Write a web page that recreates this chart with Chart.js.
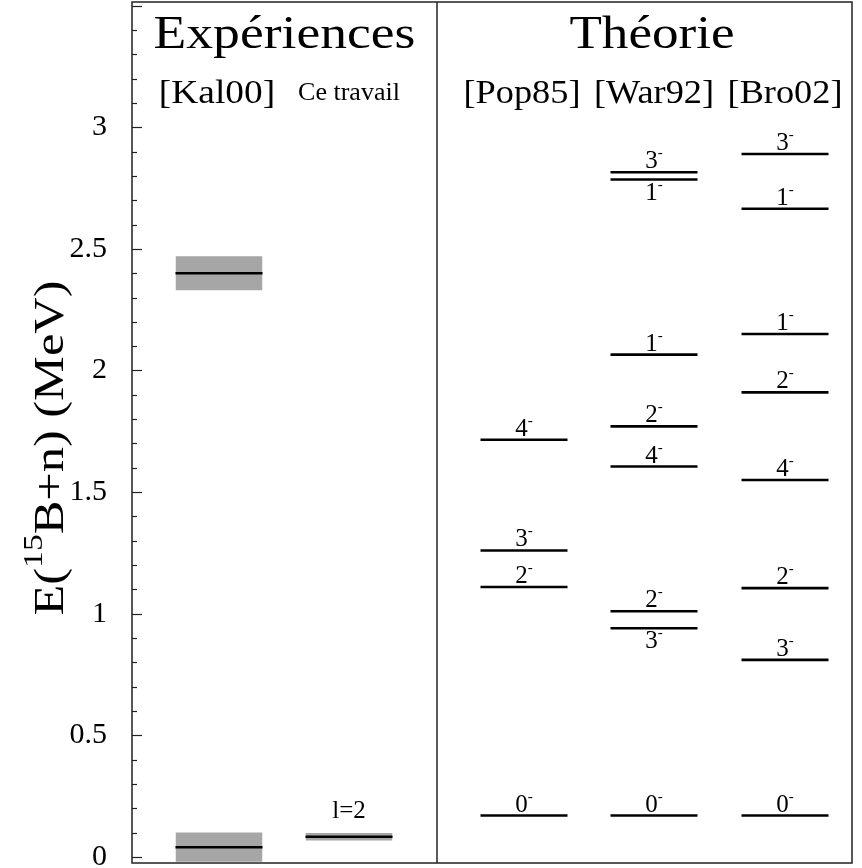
<!DOCTYPE html>
<html>
<head>
<meta charset="utf-8">
<script src="https://cdn.jsdelivr.net/npm/chart.js@4.4.1/dist/chart.umd.min.js"></script>
<style>
  html, body { margin: 0; padding: 0; background: #fff; }
  #levels { display: block; }
</style>
</head>
<body>
<canvas id="levels" width="862" height="868"></canvas>
<script>
// column headers
const groups = ['Expériences', 'Théorie'];
const columns = ['[Kal00]', 'Ce travail', '[Pop85]', '[War92]', '[Bro02]'];

// experimental levels (MeV) and their uncertainty bands
const kal00Energy = [0.04, 2.40];
const kal00Error = [0.06, 0.07];
const ceTravailEnergy = [0.083];
const ceTravailError = [0.015];
const ceTravailLabel = ['l=2'];

// theoretical levels (MeV) and J (all negative parity)
const pop85Energy = [0.17, 1.11, 1.26, 1.715];
const pop85Spin = ['0', '2', '3', '4'];
const war92Energy = [0.17, 0.94, 1.01, 1.605, 1.77, 2.065, 2.785, 2.815];
const war92Spin = ['0', '3', '2', '4', '2', '1', '1', '3'];
const bro02Energy = [0.17, 0.81, 1.105, 1.55, 1.91, 2.15, 2.665, 2.89];
const bro02Spin = ['0', '3', '2', '4', '2', '1', '1', '3'];

const yTicks = [0, 0.5, 1, 1.5, 2, 2.5, 3];

// layout on the x axis (0..7.2)
const colX = [0.87, 2.17, 3.92, 5.22, 6.53];
const halfW = 0.435;
const dividerX = 3.05;
const FONT = '"Liberation Serif", "Times New Roman", serif';

const datasets = [];
function addLevel(col, e) {
  datasets.push({
    data: [{ x: colX[col] - halfW, y: e }, { x: colX[col] + halfW, y: e }],
    borderColor: '#000', borderWidth: 2.6, pointRadius: 0, fill: false, order: 0
  });
}
function addBand(col, e, err) {
  datasets.push({
    data: [{ x: colX[col] - halfW, y: e + err }, { x: colX[col] + halfW, y: e + err }],
    borderWidth: 0, borderColor: 'rgba(0,0,0,0)', pointRadius: 0, fill: false, order: 1
  });
  datasets.push({
    data: [{ x: colX[col] - halfW, y: e - err }, { x: colX[col] + halfW, y: e - err }],
    borderWidth: 0, borderColor: 'rgba(0,0,0,0)', pointRadius: 0,
    fill: '-1', backgroundColor: '#a6a6a6', order: 1
  });
}
kal00Energy.forEach((e, i) => addBand(0, e, kal00Error[i]));
ceTravailEnergy.forEach((e, i) => addBand(1, e, ceTravailError[i]));
kal00Energy.forEach(e => addLevel(0, e));
ceTravailEnergy.forEach(e => addLevel(1, e));
pop85Energy.forEach(e => addLevel(2, e));
war92Energy.forEach(e => addLevel(3, e));
bro02Energy.forEach(e => addLevel(4, e));

function txt(ctx, s, x, y, size, stretch, align) {
  ctx.save();
  ctx.font = size + 'px ' + FONT;
  ctx.translate(x, y);
  ctx.scale(stretch, 1);
  ctx.textAlign = align;
  ctx.textBaseline = 'alphabetic';
  ctx.fillStyle = '#000';
  ctx.fillText(s, 0, 0);
  ctx.restore();
}

// J^pi label: digit with a small superscript minus
function spinLabel(ctx, j, cx, baseY) {
  ctx.save();
  ctx.font = '25px ' + FONT;
  const w = ctx.measureText(j).width;
  ctx.font = '15px ' + FONT;
  const m = ctx.measureText('-').width;
  const x0 = cx - (w + m) / 2;
  txt(ctx, j, x0, baseY, 25, 1, 'left');
  txt(ctx, '-', x0 + w, baseY - 11, 15, 1, 'left');
  ctx.restore();
}

const decor = {
  id: 'decor',
  afterDatasetsDraw(chart) {
    const { ctx, chartArea: a, scales: { x, y } } = chart;
    // frame and divider
    ctx.save();
    ctx.strokeStyle = '#222';
    ctx.lineWidth = 1.5;
    ctx.strokeRect(a.left, a.top, a.right - a.left, a.bottom - a.top);
    ctx.beginPath();
    ctx.moveTo(x.getPixelForValue(dividerX), a.top);
    ctx.lineTo(x.getPixelForValue(dividerX), a.bottom);
    ctx.stroke();
    // inside ticks on the energy axis
    ctx.lineWidth = 1.2;
    for (let k = 0; k <= 35; k++) {
      const v = k / 10;
      const py = Math.round(y.getPixelForValue(v)) + 0.5;
      if (py < a.top + 2) continue;
      const len = k % 5 === 0 ? 10 : 5;
      ctx.beginPath();
      ctx.moveTo(a.left, py);
      ctx.lineTo(a.left + len, py);
      ctx.stroke();
    }
    ctx.restore();

    // headers
    txt(ctx, groups[0], (a.left + x.getPixelForValue(dividerX)) / 2, 48, 47, 1.14, 'center');
    txt(ctx, groups[1], x.getPixelForValue(colX[3]) - 2, 48, 47, 1.13, 'center');
    txt(ctx, columns[0], x.getPixelForValue(colX[0]) - 2, 103, 34, 1.1, 'center');
    txt(ctx, columns[1], x.getPixelForValue(colX[1]), 100, 26, 1, 'center');
    txt(ctx, columns[2], x.getPixelForValue(colX[2]) - 2, 103, 33, 1.1, 'center');
    txt(ctx, columns[3], x.getPixelForValue(colX[3]), 103, 33, 1.1, 'center');
    txt(ctx, columns[4], x.getPixelForValue(colX[4]), 103, 33, 1.1, 'center');

    // experimental label
    txt(ctx, ceTravailLabel[0], x.getPixelForValue(colX[1]), y.getPixelForValue(ceTravailEnergy[0]) - 19, 25, 1, 'center');

    // spin labels: below the line when a level sits just above it
    [[2, pop85Energy, pop85Spin], [3, war92Energy, war92Spin], [4, bro02Energy, bro02Spin]].forEach(([col, es, js]) => {
      es.forEach((e, i) => {
        const py = y.getPixelForValue(e);
        const crowded = es.some(o => o > e && o - e < 0.1);
        spinLabel(ctx, js[i], x.getPixelForValue(colX[col]), crowded ? py + 20 : py - 4);
      });
    });

    // y axis title with superscript
    ctx.save();
    ctx.translate(63, 448);
    ctx.rotate(-Math.PI / 2);
    ctx.scale(1.2, 1);
    const parts = [['E(', 42, 0], ['15', 28, -21], ['B+n) (MeV)', 42, 0]];
    let total = 0;
    parts.forEach(p => { ctx.font = p[1] + 'px ' + FONT; total += ctx.measureText(p[0]).width; });
    let cx = -total / 2;
    ctx.fillStyle = '#000';
    ctx.textBaseline = 'alphabetic';
    ctx.textAlign = 'left';
    parts.forEach(p => {
      ctx.font = p[1] + 'px ' + FONT;
      ctx.fillText(p[0], cx, p[2]);
      cx += ctx.measureText(p[0]).width;
    });
    ctx.restore();
  }
};

new Chart(document.getElementById('levels'), {
  type: 'line',
  data: { datasets: datasets },
  options: {
    responsive: false,
    animation: false,
    layout: { padding: { top: 2, right: 10, bottom: 5, left: 0 } },
    plugins: { legend: { display: false }, tooltip: { enabled: false } },
    scales: {
      x: { type: 'linear', min: 0, max: 7.2, display: false },
      y: {
        type: 'linear',
        min: -0.025,
        max: 3.515,
        grid: { display: false, drawTicks: false },
        border: { display: false },
        afterFit: s => { s.width = 132; s.paddingTop = 0; s.paddingBottom = 0; },
        afterBuildTicks: s => { s.ticks = yTicks.map(v => ({ value: v })); },
        ticks: {
          padding: 25,
          color: '#000',
          font: { family: FONT, size: 30 },
          callback: v => String(v)
        }
      }
    }
  },
  plugins: [decor]
});
</script>
</body>
</html>
